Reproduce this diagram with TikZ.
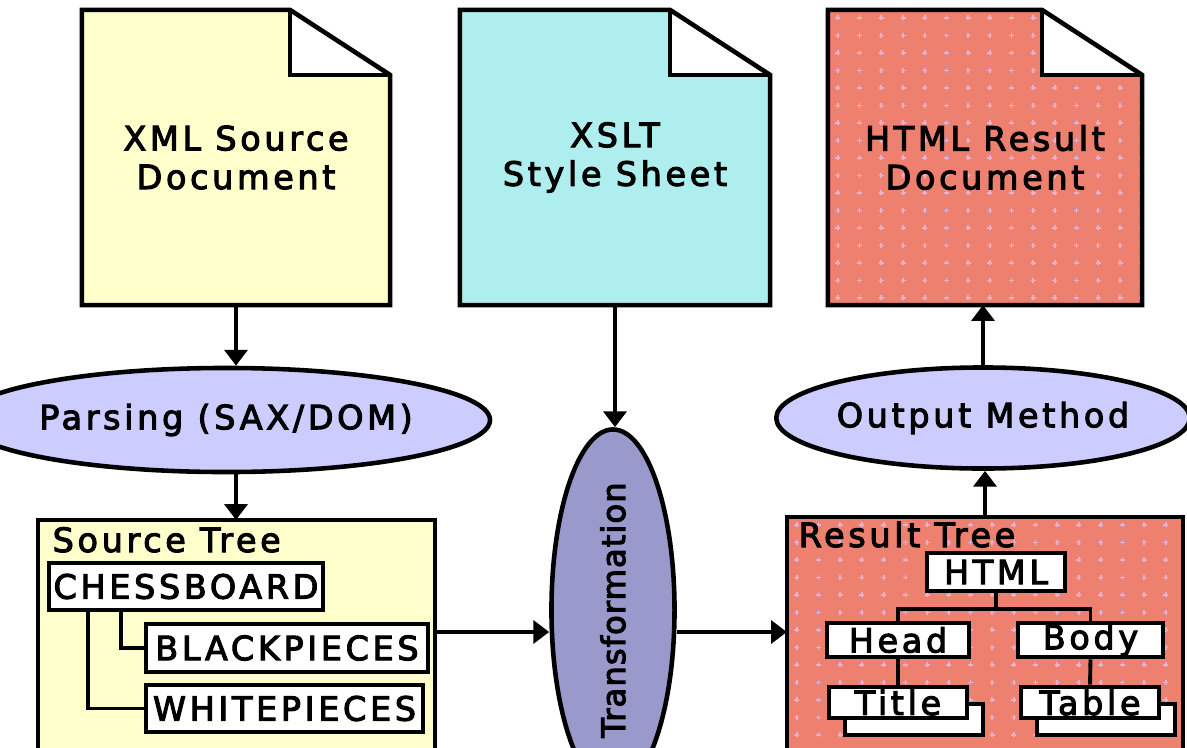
\documentclass[tikz,border=0pt]{standalone}
\usepackage{fontspec}
\newfontfamily\diafont[LetterSpace=11]{DejaVu Sans}
\newfontfamily\diafonttight[LetterSpace=3]{DejaVu Sans}
\newcommand\heavyink{\special{pdf:literal direct 2 Tr 0.3 w}}
\usetikzlibrary{arrows.meta, positioning, calc, shapes.geometric, shadows, backgrounds}
\definecolor{xmlyellow}{HTML}{FFFFCC}
\definecolor{xsltcyan}{HTML}{AFEEEE}
\definecolor{htmlsalmon}{HTML}{EE8070}
\definecolor{dotpink}{HTML}{E6B0CC}
\definecolor{stagelav}{HTML}{CCCCFF}
\definecolor{translav}{HTML}{9999CC}

\begin{document}
\begin{tikzpicture}[x=0.01cm, y=-0.01cm, >={Triangle[length=4.5pt,width=6.5pt]},
    every node/.style={font=\diafont\fontsize{9.5}{11}\selectfont\heavyink},
    sheet/.style={inner sep=0pt, outer sep=0pt, align=center},
    sheetline/.style={draw=black, line width=1.3pt, line join=miter},
    stage/.style={ellipse, draw, line width=1.3pt, fill=stagelav, inner sep=0pt},
    treebox/.style={rectangle, draw, line width=1.3pt, inner sep=0pt, outer sep=0pt},
    elem/.style={rectangle, draw, line width=1.3pt, fill=white, inner sep=0pt},
    stacked/.style={copy shadow={shadow xshift=0.16cm, shadow yshift=-0.17cm}},
    flow/.style={->, line width=1.1pt},
    link/.style={line width=1.1pt}]
  \clip (0,0) rectangle (1187,748);

  % documents
  \node[sheet, minimum width=3.08cm, minimum height=2.95cm] (xml) at (236,157.5) {XML Source\\Document};
  \node[sheet, minimum width=3.10cm, minimum height=2.95cm] (xslt) at (615,157.5) {XSLT\\Style Sheet};
  \node[sheet, minimum width=3.14cm, minimum height=2.95cm] (html) at (985,157.5) {HTML Result\\Document};

  \begin{scope}[on background layer]
    \foreach \d/\c in {xml/xmlyellow, xslt/xsltcyan, html/htmlsalmon} {
      \fill[\c] (\d.south west) -- (\d.north west)
        -- ($(\d.north east)+(-100,0)$) -- ($(\d.north east)+(0,65)$)
        -- (\d.south east) -- cycle;
    }
    \begin{scope}
      \clip (html.south west) -- (html.north west) -- ($(html.north east)+(-100,0)$)
        -- ($(html.north east)+(0,65)$) -- (html.south east) -- cycle;
      \foreach \i in {0,...,15} {
        \foreach \j in {0,...,17} {
          \draw[dotpink, line width=0.5pt] ($(html.north west)+(21.7*\i+10,17.5*\j+8)$)
            ++(-2.5,0) -- ++(5,0) ++(-2.5,-2.5) -- ++(0,5);
        }
      }
    \end{scope}
    \foreach \d in {xml, xslt, html} {
      \fill[white] ($(\d.north east)+(-100,0)$) |- ($(\d.north east)+(0,65)$) -- cycle;
      \draw[sheetline] (\d.south west) -- (\d.north west)
        -- ($(\d.north east)+(-100,0)$) -- ($(\d.north east)+(0,65)$)
        -- (\d.south east) -- cycle;
      \draw[sheetline] ($(\d.north east)+(-100,0)$) |- ($(\d.north east)+(0,65)$);
    }
  \end{scope}

  % processing stages
  \node[stage, minimum width=4.18cm, minimum height=1.04cm] (parse) at (226,420) {Parsing (SAX/DOM)};
  \node[stage, fill=translav, minimum width=1.23cm, minimum height=2.74cm] (trans) at (613,610)
    {\rotatebox{90}{\diafonttight\fontsize{9.2}{10}\selectfont\heavyink Transformation}};
  \node[stage, minimum width=4.03cm, minimum height=1.01cm] (outm) at (983,418) {Output Method};

  % source tree
  \node[treebox, fill=xmlyellow, minimum width=3.97cm, minimum height=2.5cm] (srctree) at (236.5,645) {};
  \node[anchor=base west, inner sep=0pt] (srclabel) at (52,552) {Source Tree};
  \node[elem, minimum width=2.74cm, minimum height=0.47cm] (chess) at (186,586.5) {CHESSBOARD};
  \node[elem, minimum width=2.82cm, minimum height=0.48cm] (black) at (287,648) {BLACKPIECES};
  \node[elem, minimum width=2.77cm, minimum height=0.47cm] (white) at (284.5,708.5) {WHITEPIECES};
  \draw[link] ($(chess.south west)+(41,0)$) |- (white.west);
  \draw[link] ($(chess.south west)+(74,0)$) |- (black.west);

  % result tree
  \node[treebox, fill=htmlsalmon, minimum width=3.96cm, minimum height=2.5cm] (restree) at (985,642) {};
  \begin{scope}
    \clip (restree.south west) rectangle (restree.north east);
    \foreach \i in {0,...,18} {
      \foreach \j in {0,...,13} {
        \draw[dotpink, line width=0.5pt] ($(restree.north west)+(21.7*\i+10,17.5*\j+8)$)
          ++(-2.5,0) -- ++(5,0) ++(-2.5,-2.5) -- ++(0,5);
      }
    }
  \end{scope}
  \draw[line width=1.3pt] (restree.south west) rectangle (restree.north east);
  \node[anchor=base west, inner sep=0pt] (reslabel) at (798,547) {Result Tree};
  \node[elem, minimum width=1.38cm, minimum height=0.38cm] (htmlel) at (996,572) {HTML};
  \node[elem, minimum width=1.42cm, minimum height=0.34cm] (head) at (898,640) {Head};
  \node[elem, minimum width=1.45cm, minimum height=0.34cm] (body) at (1090.5,640) {Body};
  \node[elem, stacked, minimum width=1.38cm, minimum height=0.31cm] (title) at (898,702.5) {Title};
  \node[elem, stacked, minimum width=1.38cm, minimum height=0.31cm] (table) at (1090,702.5) {Table};
  \draw[link] (htmlel.south) -- ++(0,16) -| (head.north);
  \draw[link] (htmlel.south) -- ++(0,16) -| (body.north);
  \draw[link] (head.south) -- (title.north);
  \draw[link] (body.south) -- (table.north);

  % flow
  \coordinate (lvl) at (0,632);
  \draw[flow] (xml.south) -- (xml.south |- parse.north);
  \draw[flow] (xml.south |- parse.south) -- (xml.south |- srctree.north);
  \draw[flow] (xslt.south) -- (xslt.south |- trans.north);
  \draw[flow] (srctree.east |- lvl) -- (trans.west |- lvl);
  \draw[flow] (trans.east |- lvl) -- (restree.west |- lvl);
  \draw[flow] (restree.north) -- (restree.north |- outm.south);
  \draw[flow] (outm.north) -- (outm.north |- html.south);
\end{tikzpicture}
\end{document}
